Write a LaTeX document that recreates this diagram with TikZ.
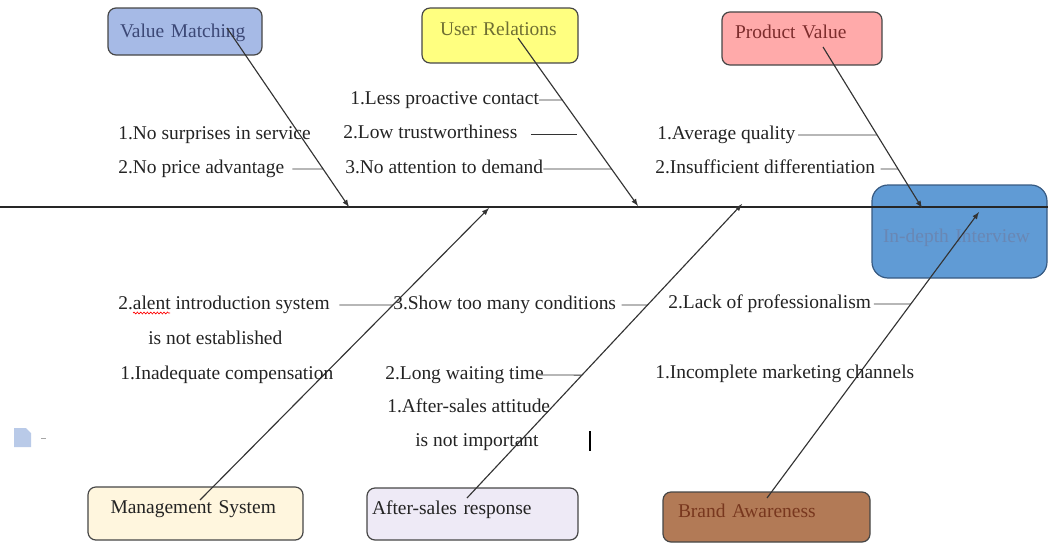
\documentclass[tikz,border=0pt]{standalone}
\usepackage{fontspec}
\setmainfont{Liberation Serif}
\usepackage{tikz}
\usetikzlibrary{decorations.pathmorphing}
\definecolor{boxline}{RGB}{70,70,70}
\definecolor{vmfill}{RGB}{166,186,230}
\definecolor{vmtext}{RGB}{60,72,118}
\definecolor{urfill}{RGB}{255,255,128}
\definecolor{urtext}{RGB}{110,110,50}
\definecolor{pvfill}{RGB}{255,170,170}
\definecolor{pvtext}{RGB}{125,45,45}
\definecolor{idfill}{RGB}{96,155,213}
\definecolor{idline}{RGB}{55,90,130}
\definecolor{idtext}{RGB}{105,135,180}
\definecolor{msfill}{RGB}{255,246,222}
\definecolor{asfill}{RGB}{238,234,246}
\definecolor{bafill}{RGB}{178,122,86}
\definecolor{batext}{RGB}{120,55,30}
\definecolor{bodytext}{RGB}{35,35,35}
\definecolor{iconblue}{RGB}{185,202,232}

\tikzset{
  cause/.style={draw=boxline, line width=0.9pt, rounded corners=6pt, inner ysep=0pt, align=left},
  item/.style={anchor=west, inner sep=0pt, text height=9pt, text depth=3pt, text=bodytext},
  bone/.style={->, >=latex, draw=black!80, line width=0.85pt},
  tick/.style={draw=black!80, line width=0.7pt}
}

\begin{document}
\begin{tikzpicture}[x=0.75pt, y=-0.75pt, font=\fontsize{14.6}{17}\selectfont]
  \useasboundingbox (0,0) rectangle (1048,546);

  \node[cause, fill=vmfill, text=vmtext, inner xsep=9pt, text width=97.5pt,
    text height=21.75pt, text depth=13.5pt] (valueMatching) at (185,31.5) {Value Matching};
  \node[cause, fill=urfill, text=urtext, inner xsep=13.5pt, text width=90pt,
    text height=20.6pt, text depth=20.6pt] (userRelations) at (500,35.5) {User Relations};
  \node[cause, fill=pvfill, text=pvtext, inner xsep=9.75pt, text width=100.5pt,
    text height=19.9pt, text depth=19.9pt] (productValue) at (802,38.5) {Product Value};
  \node[cause, draw=idline, fill=idfill, text=idtext, rounded corners=12pt, inner xsep=8.25pt, text width=114.75pt,
    text height=42.75pt, text depth=27pt] (interview) at (959.5,231.5) {In-depth Interview};
  \node[cause, fill=msfill, text=bodytext, inner xsep=16.9pt, text width=127.5pt,
    text height=19.9pt, text depth=19.9pt] (management) at (195.5,513.5) {Management System};
  \node[cause, fill=asfill, text=bodytext, inner xsep=3.75pt, text width=150.75pt,
    text height=19.5pt, text depth=19.5pt] (afterSales) at (472.5,514) {After-sales response};
  \node[cause, fill=bafill, text=batext, inner xsep=11.25pt, text width=132.75pt,
    text height=18.75pt, text depth=18.75pt] (brand) at (766.5,517) {Brand Awareness};

  \coordinate (spineL) at (0,207);
  \coordinate (spineR) at (1048,207);
  \draw[draw=black!85, line width=1.1pt] (spineL) -- (spineR);

  \coordinate (vmTail) at ([shift={(42,-3.5)}]valueMatching.center);
  \coordinate (urTail) at ([shift={(18,2.5)}]userRelations.center);
  \coordinate (pvTail) at ([shift={(21,8.5)}]productValue.center);
  \coordinate (msTail) at ([shift={(4.5,-13.5)}]management.center);
  \coordinate (asTail) at ([shift={(-5.5,-16)}]afterSales.center);
  \coordinate (baTail) at ([shift={(0.5,-19)}]brand.center);
  \coordinate (vmHead) at (349,207);
  \coordinate (urHead) at (638,206);
  \coordinate (pvHead) at (922,208);
  \coordinate (msHead) at (489,208);
  \coordinate (asHead) at (742,204);
  \coordinate (baHead) at (979,212);

  \draw[bone] (vmTail) -- (vmHead);
  \draw[bone] (urTail) -- (urHead);
  \draw[bone] (pvTail) -- (pvHead);
  \draw[bone] (msTail) -- (msHead);
  \draw[bone] (asTail) -- (asHead);
  \draw[bone] (baTail) -- (baHead);

  \node[item] (noSurprise) at (118,135) {1.No surprises in service};
  \node[item] (noPrice) at (118,169) {2.No price advantage};
  \node[item] (lessContact) at (350,100) {1.Less proactive contact};
  \node[item] (lowTrust) at (343,134) {2.Low trustworthiness};
  \node[item] (noAttention) at (345,169) {3.No attention to demand};
  \node[item] (avgQuality) at (657,135) {1.Average quality};
  \node[item] (insuffDiff) at (655,169) {2.Insufficient differentiation};

  \node[item] (talentSys) at (118,305) {2.alent introduction system};
  \node[item] (notEstablished) at (148,340) {is not established};
  \node[item] (inadequate) at (120,375) {1.Inadequate compensation};
  \node[item] (tooMany) at (393,305) {3.Show too many conditions};
  \node[item] (longWait) at (385,375) {2.Long waiting time};
  \node[item] (attitude) at (387,408) {1.After-sales attitude};
  \node[item] (notImportant) at (415,442) {is not important};
  \node[item] (lackProf) at (668,304) {2.Lack of professionalism};
  \node[item] (marketing) at (655,374) {1.Incomplete marketing channels};

  \draw[red, line width=0.5pt, decorate, decoration={snake, amplitude=0.7pt, segment length=2.5pt}]
    ([shift={(15,8)}]talentSys.west) -- ([shift={(52,8)}]talentSys.west);

  \draw[tick] ([xshift=6pt]noPrice.east) -- (intersection of noPrice.west--noPrice.east and vmTail--vmHead);
  \draw[tick] (lessContact.east) -- (intersection of lessContact.west--lessContact.east and urTail--urHead);
  \draw[tick] ([xshift=10pt]lowTrust.east) -- ++(46,0);
  \draw[tick] (noAttention.east) -- (intersection of noAttention.west--noAttention.east and urTail--urHead);
  \draw[tick] ([xshift=2pt]avgQuality.east) -- (intersection of avgQuality.west--avgQuality.east and pvTail--pvHead);
  \draw[tick] ([xshift=4pt]insuffDiff.east) -- (intersection of insuffDiff.west--insuffDiff.east and pvTail--pvHead);
  \draw[tick] ([xshift=7pt]talentSys.east) -- (intersection of talentSys.west--talentSys.east and msTail--msHead);
  \draw[tick] ([xshift=4pt]tooMany.east) -- (intersection of tooMany.west--tooMany.east and asTail--asHead);
  \draw[tick] ([xshift=-4pt]longWait.east) -- (intersection of longWait.west--longWait.east and asTail--asHead);
  \draw[tick] ([xshift=2pt]lackProf.east) -- (intersection of lackProf.west--lackProf.east and baTail--baHead);

  \draw[line width=1.2pt] (590,431) -- (590,451);
  \fill[iconblue] (14,428) -- (26,428) -- (31,433) -- (31,447) -- (14,447) -- cycle;
  \draw[black!35, line width=0.6pt] (41,438) -- (46,438);
\end{tikzpicture}
\end{document}
